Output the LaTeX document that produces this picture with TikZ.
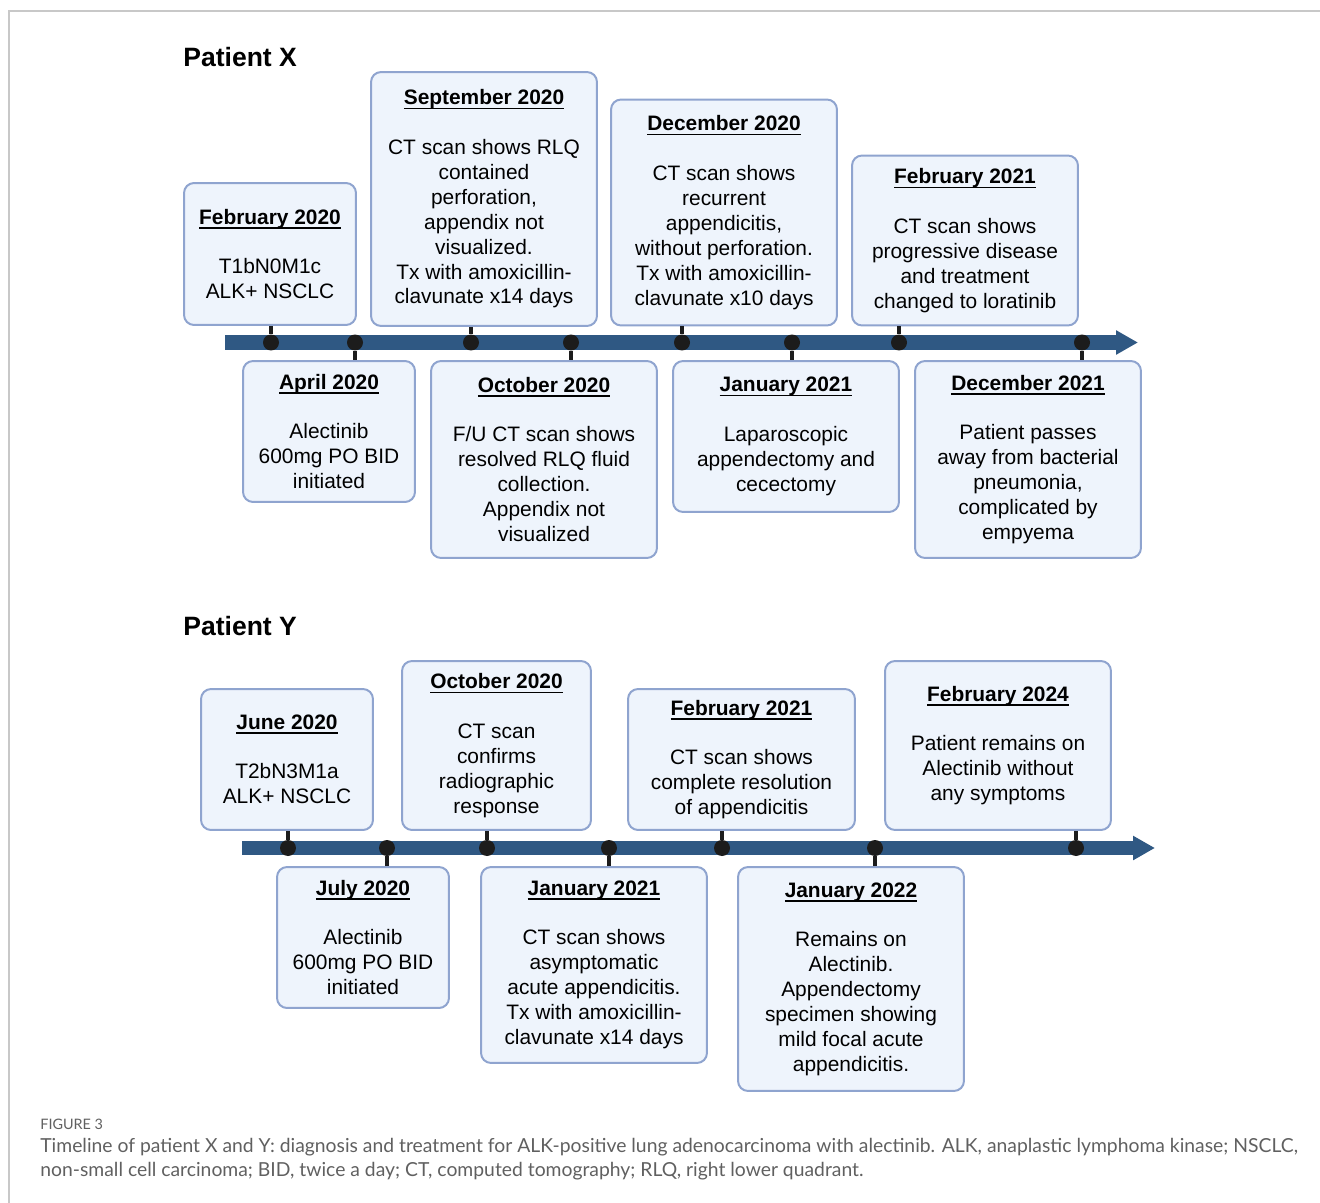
\documentclass[tikz,border=0pt]{standalone}
\usepackage{fontspec}
\setmainfont{Liberation Sans}
\newfontfamily\capfont{Lato}
\usetikzlibrary{positioning}
\usetikzlibrary{arrows.meta}
\definecolor{evtline}{RGB}{143,164,207}
\definecolor{evtfill}{RGB}{238,244,252}
\definecolor{barcol}{RGB}{47,88,131}
\definecolor{dotcol}{RGB}{28,28,28}
\definecolor{capcol}{RGB}{96,96,96}
\definecolor{framecol}{RGB}{200,200,200}
\newcommand{\evtfont}{\fontsize{11.9}{14.2}\selectfont}
\newsavebox{\hdbox}
\newcommand{\hd}[1]{\sbox{\hdbox}{\textbf{#1}}\makebox[0pt][l]{\rule[-0.09cm]{\wd\hdbox}{0.035cm}}\usebox{\hdbox}\\[0.49cm]}
\tikzset{
evt/.style={
  draw=evtline,
  fill=evtfill,
  line width=0.04cm,
  rounded corners=0.2cm,
  inner sep=0pt,
  align=center,
  font=\evtfont
  },
dot/.style={circle, fill=dotcol, inner sep=0pt, minimum size=0.32cm},
stem/.style={draw=dotcol, line width=0.07cm},
bar/.style={draw=barcol, line width=0.29cm, -{Triangle[length=0.44cm,width=0.46cm]}},
ttl/.style={anchor=west, inner sep=0pt, font=\fontsize{15.1}{18}\selectfont\bfseries}
}
\begin{document}
\begin{tikzpicture}[x=0.02cm,y=-0.02cm]
\useasboundingbox (0,0) rectangle (1320,1203);
\draw[framecol, line width=0.026cm] (9,1203) -- (9,11) -- (1320,11);

% Patient X
\node[ttl] (tx) at (183,57) {Patient X};
\node[evt, minimum width=3.44cm, minimum height=2.84cm] (x1) at (270,254) {\hd{February 2020}T1bN0M1c\\ALK+ NSCLC};
\node[evt, minimum width=4.52cm, minimum height=5.08cm] (x3) at (484,199) {\hd{September 2020}CT scan shows RLQ\\contained\\perforation,\\appendix not\\visualized.\\Tx with amoxicillin-\\clavunate x14 days};
\node[evt, minimum width=4.52cm, minimum height=4.52cm] (x5) at (724,212.5) {\hd{December 2020}CT scan shows\\recurrent\\appendicitis,\\without perforation.\\Tx with amoxicillin-\\clavunate x10 days};
\node[evt, minimum width=4.52cm, minimum height=3.40cm] (x7) at (965,240.5) {\hd{February 2021}CT scan shows\\progressive disease\\and treatment\\changed to loratinib};
\node[evt, minimum width=3.44cm, minimum height=2.82cm] (x2) at (329,431.5) {\hd{April 2020}Alectinib\\600mg PO BID\\initiated};
\node[evt, minimum width=4.52cm, minimum height=3.94cm] (x4) at (544,459.5) {\hd{October 2020}F/U CT scan shows\\resolved RLQ fluid\\collection.\\Appendix not\\visualized};
\node[evt, minimum width=4.52cm, minimum height=3.02cm] (x6) at (786,436.5) {\hd{January 2021}Laparoscopic\\appendectomy and\\cecectomy};
\node[evt, minimum width=4.52cm, minimum height=3.94cm] (x8) at (1028,459.5) {\hd{December 2021}Patient passes\\away from bacterial\\pneumonia,\\complicated by\\empyema};

\coordinate (xs) at (225,342.5);
\coordinate (xe) at (1138,342.5);
\draw[bar] (xs) -- (xe);
\foreach \i/\p in {1/271,2/355,3/471,4/571,5/682,6/792,7/899,8/1082}
  \node[dot] (dx\i) at (\p,342.5) {};
\foreach \i in {1,3,5,7}
  \draw[stem] (dx\i) -- (dx\i |- x\i.south);
\foreach \i in {2,4,6,8}
  \draw[stem] (dx\i) -- (dx\i |- x\i.north);

% Patient Y
\node[ttl] (ty) at (183,626) {Patient Y};
\node[evt, minimum width=3.44cm, minimum height=2.82cm] (y1) at (287,759.5) {\hd{June 2020}T2bN3M1a\\ALK+ NSCLC};
\node[evt, minimum width=3.78cm, minimum height=3.38cm] (y3) at (496.5,745.5) {\hd{October 2020}CT scan\\confirms\\radiographic\\response};
\node[evt, minimum width=4.54cm, minimum height=2.82cm] (y5) at (741.5,759.5) {\hd{February 2021}CT scan shows\\complete resolution\\of appendicitis};
\node[evt, minimum width=4.52cm, minimum height=3.38cm] (y7) at (998,745.5) {\hd{February 2024}Patient remains on\\Alectinib without\\any symptoms};
\node[evt, minimum width=3.44cm, minimum height=2.82cm] (y2) at (363,937.5) {\hd{July 2020}Alectinib\\600mg PO BID\\initiated};
\node[evt, minimum width=4.52cm, minimum height=3.92cm] (y4) at (594,965) {\hd{January 2021}CT scan shows\\asymptomatic\\acute appendicitis.\\Tx with amoxicillin-\\clavunate x14 days};
\node[evt, minimum width=4.52cm, minimum height=4.48cm] (y6) at (851,979) {\hd{January 2022}Remains on\\Alectinib.\\Appendectomy\\specimen showing\\mild focal acute\\appendicitis.};

\coordinate (ys) at (242,848);
\coordinate (ye) at (1155,848);
\draw[bar] (ys) -- (ye);
\foreach \i/\p in {1/288,2/387,3/487,4/609,5/722,6/875,7/1076}
  \node[dot] (dy\i) at (\p,848) {};
\foreach \i in {1,3,5,7}
  \draw[stem] (dy\i) -- (dy\i |- y\i.south);
\foreach \i in {2,4,6}
  \draw[stem] (dy\i) -- (dy\i |- y\i.north);

% caption
\node[anchor=west, inner sep=0pt, text=capcol, font=\capfont\fontsize{8.2}{9}\selectfont] (fig) at (40,1124) {FIGURE 3};
\node[anchor=north west, inner sep=0pt, align=left, text=capcol, font=\capfont\fontsize{11}{13.6}\selectfont] (cap) at (40,1138) {Timeline of patient X and Y: diagnosis and treatment for ALK-positive lung adenocarcinoma with alectinib. ALK, anaplastic lymphoma kinase; NSCLC,\\non-small cell carcinoma; BID, twice a day; CT, computed tomography; RLQ, right lower quadrant.};
\end{tikzpicture}
\end{document}
